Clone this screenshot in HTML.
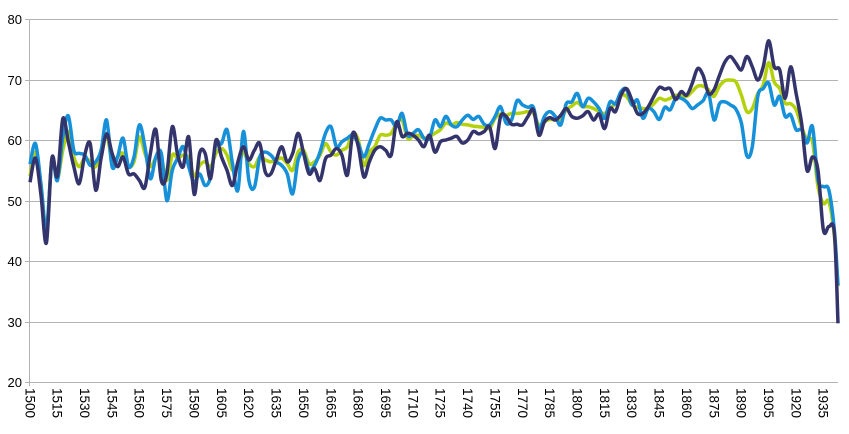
<!DOCTYPE html>
<html><head><meta charset="utf-8"><style>
body{margin:0;background:#fff;}
svg{display:block;font-family:"Liberation Sans",sans-serif;}
</style></head><body>
<svg id="chart" width="849" height="434" viewBox="0 0 849 434" xmlns="http://www.w3.org/2000/svg">
<g id="grid"></g>
<g id="yaxis"></g>
<g id="xaxis"></g>
<g id="series"></g>
</svg>
<script>
const years = [];
for (let y = 1500; y <= 1941; y += 3) years.push(y);
years.push(1943);
const yTicks = [20,30,40,50,60,70,80];
const xTickYears = [1500,1515,1530,1545,1560,1575,1590,1605,1620,1635,1650,1665,1680,1695,1710,1725,1740,1755,1770,1785,1800,1815,1830,1845,1860,1875,1890,1905,1920,1935];
const navySeries = [53,57,51,43,57,54,63.5,59.7,55.6,52.8,57.5,59.4,51.7,57,61,57.8,55.6,57.2,54.4,54.4,53.3,52.2,57.8,61.7,53.3,54.4,
62.2,57.5,55.6,60.5,51,57.8,57.8,53.6,60,57.2,55,52.5,56.4,58.9,56.7,58.3,59.4,54.7,54.4,56.7,58.9,56.4,57.8,61.1,57.8,
54.4,55.3,53.3,56.9,57.5,58.6,57.5,54.2,61.1,58.9,53.9,56.4,58.3,58.9,58.3,57.5,63,60.6,61.1,60.8,60,58.9,60.8,58,59.7,
60,60.3,60.6,59.5,60,61.4,61,61.4,62.2,58.6,63.9,63.9,62.6,62.6,62.5,63.9,65,60.8,63,63.7,63.3,64.1,65.2,63.9,
63.6,64,64.7,63.3,64.3,61.9,65.2,64.7,67.4,68.5,66.6,64.4,64.4,65.5,67.2,68.7,68.4,68.5,66.7,68,67.4,69.3,71.8,70.7,67.7,
68.3,70.7,72.9,73.8,72.7,71.6,73.8,72.1,69.9,72.1,76.4,72.1,71.6,66.9,72.1,67.7,62.8,55,57.2,55,45.1,45.7,44.6,29.7];
const blueSeries = [56,59.4,52.8,45,56.7,53.3,60.5,64,58.3,57.8,57.5,55.8,56.4,58.3,63.3,55.6,57.2,60.3,55.6,57.2,62.5,58.9,53.6,57.2,57.8,50,
55,57,58.9,55.6,53,54.4,52.5,53.9,59.4,59.4,61.7,56.1,51.7,61.4,53.3,52.2,57.2,58,57.5,56.4,55.8,54.4,51.1,56.7,57.8,
55,55.8,58,61.1,62.2,58.9,59.7,60.3,60.8,59.4,57.2,59.4,61.7,63.6,63.3,63.3,62.2,64.4,60.8,61.1,61.7,60.3,60.3,63.3,62.2,
63.9,62.5,62.2,63.3,64.1,63.4,63.9,62.6,62.5,63.9,65.5,62.8,63.3,66.5,65.8,65.4,65.4,61.7,63.9,64.7,63.9,62.5,66,66.3,
67.7,65.5,66.9,66.3,65.2,63.6,66.3,66,68,68.4,65.8,66.6,63.6,65.2,64.7,63.4,65.4,65,66.9,66.9,66.3,65.2,65.8,66.5,67.7,
63.3,66,66.3,65.8,65.1,62.8,57.4,58.9,67.2,68.5,69.4,65.8,67.2,63.9,64.2,61.7,61.7,59.5,62.2,53.4,52.3,51.7,45,36];
const greenSeries = [54,58,52.8,45,56.7,53.6,58.3,61.4,57.2,55.6,57,56.4,55.6,58.3,61,56.4,57.2,57.8,55.6,56.4,60.5,57.8,55.6,57,57,53.3,
57.5,57,57.5,57,54,55.8,56.4,55.6,57.8,58.6,57.5,55,55.6,58,56.1,55.6,57.2,56.7,56.4,56.7,57,56.1,55,58,58.3,
56.1,56.4,57.5,59.4,58,57.5,58.3,58.9,61.1,60,55.8,58,58.9,60.8,60.8,61.1,62.8,63.3,60.3,60.6,60.8,60.3,60.6,61.1,61.7,
62.8,62.5,62.9,62.6,62.5,62.3,62.2,62.1,61.9,63.6,64.3,64.1,64.4,64.4,64.5,64.7,64.4,62.5,63,63.4,63.3,63.4,65,65.6,
66.2,65.5,65.5,65.2,64.7,64.4,65.2,66.1,67.4,67.2,65.8,65.4,65.2,65.2,66,66.9,66.6,66.9,67.4,67.3,67.2,68,68.9,68.9,68.3,
67.2,68.9,69.8,69.9,69.6,67.4,64.7,65.2,67.7,69.1,72.8,69.6,68.5,66.1,66,65,62.2,60,59.7,52.3,49.5,49.8,44,35.8];

const NS = "http://www.w3.org/2000/svg";
const X0 = 30, PX_PER_YEAR = 1.824, PLOT_R = 838;
const Y_TOP = 19, Y_BOT = 382;
function xScale(yr){ return X0 + (yr - 1500) * PX_PER_YEAR; }
function yScale(v){ return Y_BOT - (v - 20) / 60 * (Y_BOT - Y_TOP); }
function mk(tag, attrs, parent){ const e = document.createElementNS(NS, tag); for (const k in attrs) e.setAttribute(k, attrs[k]); parent.appendChild(e); return e; }

const grid = document.getElementById('grid');
const yaxis = document.getElementById('yaxis');
const xaxis = document.getElementById('xaxis');
yTicks.forEach(t => {
  const y = Math.round(yScale(t)) + 0.5;
  const g = mk('line', {x1: 25, x2: PLOT_R, y1: y, y2: y, stroke: '#b3b3b3', 'stroke-width': 1}, grid);
  
  
  const tx = mk('text', {x: 22, y: y + 4.5, 'text-anchor': 'end', 'font-size': 13, fill: '#000'}, yaxis);
  tx.textContent = t;
  
  
});
const axl = mk('line', {x1: 29.5, x2: 29.5, y1: Y_TOP, y2: Y_BOT + 4, stroke: '#b3b3b3', 'stroke-width': 1}, yaxis);


xTickYears.forEach(yr => {
  const x = xScale(yr);
  const tx = mk('text', {x: 0, y: 0, 'font-size': 13.5, fill: '#000', transform: 'translate(' + (x - 4.7) + ',388) rotate(90)'}, xaxis);
  tx.textContent = yr;
  
  
});

function smoothPath(vals){
  const pts = vals.map((v, i) => [xScale(years[i]), yScale(v)]);
  let d = 'M' + pts[0][0].toFixed(1) + ',' + pts[0][1].toFixed(1);
  for (let i = 0; i < pts.length - 1; i++){
    const p0 = pts[Math.max(0, i - 1)], p1 = pts[i], p2 = pts[i + 1], p3 = pts[Math.min(pts.length - 1, i + 2)];
    const c1x = p1[0] + (p2[0] - p0[0]) / 6, c1y = p1[1] + (p2[1] - p0[1]) / 6;
    const c2x = p2[0] - (p3[0] - p1[0]) / 6, c2y = p2[1] - (p3[1] - p1[1]) / 6;
    d += 'C' + c1x.toFixed(1) + ',' + c1y.toFixed(1) + ' ' + c2x.toFixed(1) + ',' + c2y.toFixed(1) + ' ' + p2[0].toFixed(1) + ',' + p2[1].toFixed(1);
  }
  return d;
}
const seriesG = document.getElementById('series');
const gp = mk('path', {d: smoothPath(greenSeries), fill: 'none', stroke: '#b4d20c', 'stroke-width': 3.5, 'stroke-linejoin': 'round'}, seriesG);


const bp = mk('path', {d: smoothPath(blueSeries), fill: 'none', stroke: '#1690d8', 'stroke-width': 3.5, 'stroke-linejoin': 'round'}, seriesG);


const np = mk('path', {d: smoothPath(navySeries), fill: 'none', stroke: '#34346c', 'stroke-width': 3.5, 'stroke-linejoin': 'round'}, seriesG);


</script>
</body></html>
